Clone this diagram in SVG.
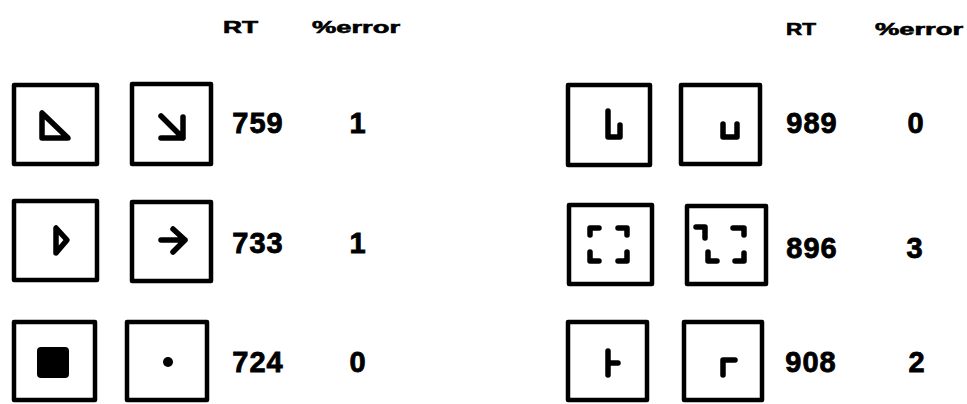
<svg xmlns="http://www.w3.org/2000/svg" width="967" height="404" viewBox="0 0 967 404">
<style>
.box{fill:none;stroke:#000;stroke-width:4.5;stroke-linejoin:round}
.g{fill:none;stroke:#000;stroke-width:5.5;stroke-linecap:round;stroke-linejoin:round}
.hd{font-family:"Liberation Sans",Arial,sans-serif;font-weight:bold;font-size:16px;fill:#000;stroke:#000;stroke-width:0.6}
.num{font-family:"Liberation Sans",Arial,sans-serif;font-weight:bold;font-size:29px;fill:#000;stroke:#000;stroke-width:0.8;text-anchor:middle;letter-spacing:1px}
</style>
<rect width="967" height="404" fill="#fff"/>
<g id="headers">
<text class="hd" x="223" y="33" textLength="35" lengthAdjust="spacingAndGlyphs">RT</text>
<text class="hd" x="312" y="33" textLength="88" lengthAdjust="spacingAndGlyphs">%error</text>
<text class="hd" x="786" y="35" textLength="30" lengthAdjust="spacingAndGlyphs">RT</text>
<text class="hd" x="875" y="35" textLength="88" lengthAdjust="spacingAndGlyphs">%error</text>
</g>
<g id="row1-left">
<g id="r1a"><rect class="box" x="14" y="85" width="83" height="79"/><path class="g" d="M42,113 L42,138 L68,138 Z"/></g>
<g id="r1b"><rect class="box" x="132" y="84" width="79" height="80"/><path class="g" d="M161,116 L183,138 M161,138 H183 V117"/></g>
<text class="num" x="258" y="133">759</text>
<text class="num" x="358" y="133">1</text>
</g>
<g id="row2-left">
<g id="r2a"><rect class="box" x="14" y="201" width="83" height="79"/><path class="g" d="M56,228 V253 L67,240 Z"/></g>
<g id="r2b"><rect class="box" x="132" y="202" width="79" height="79"/><path class="g" d="M161,240 H185 M173,229 L185,240 L173,252"/></g>
<text class="num" x="258" y="253">733</text>
<text class="num" x="358" y="253">1</text>
</g>
<g id="row3-left">
<g id="r3a"><rect class="box" x="14" y="322" width="81" height="78"/><rect x="37" y="347" width="32" height="31" rx="4" fill="#000"/></g>
<g id="r3b"><rect class="box" x="127" y="322" width="80" height="78"/><circle cx="168" cy="362" r="5" fill="#000"/></g>
<text class="num" x="258" y="372">724</text>
<text class="num" x="358" y="372">0</text>
</g>
<g id="row1-right">
<g id="r1c"><rect class="box" x="568" y="85" width="82" height="80"/><path class="g" d="M608,111 V137 H620 V125"/></g>
<g id="r1d"><rect class="box" x="681" y="85" width="79" height="79"/><path class="g" d="M723,124 V137 H737 V124"/></g>
<text class="num" x="812" y="133">989</text>
<text class="num" x="916" y="133">0</text>
</g>
<g id="row2-right">
<g id="r2c"><rect class="box" x="569" y="205" width="83" height="79"/><path class="g" d="M590,235 V228 H599 M618,228 H627 V235 M590,252 V261 H599 M618,261 H627 V252"/></g>
<g id="r2d"><rect class="box" x="687" y="206" width="79" height="78"/><path class="g" d="M696,227 H705 V238 M733,228 H744 V235 M708,252 V261 H717 M735,261 H744 V253"/></g>
<text class="num" x="812" y="258">896</text>
<text class="num" x="915" y="258">3</text>
</g>
<g id="row3-right">
<g id="r3c"><rect class="box" x="568" y="322" width="79" height="78"/><path class="g" d="M608,351 V375 M608,363 H618"/></g>
<g id="r3d"><rect class="box" x="684" y="322" width="78" height="78"/><path class="g" d="M723,360 V375 M723,360 H735"/></g>
<text class="num" x="811" y="372">908</text>
<text class="num" x="917" y="372">2</text>
</g>
<g id="connectors"></g>
</svg>
